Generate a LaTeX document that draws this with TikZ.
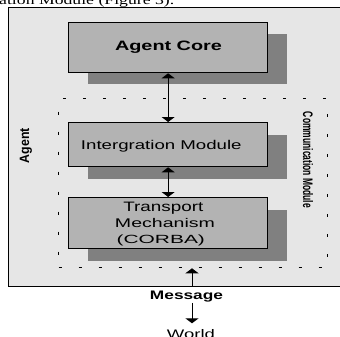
\documentclass[tikz,border=0pt]{standalone}
\usepackage{fontspec}
\setmainfont{Liberation Sans}
\newfontfamily\serifcap{Liberation Serif}
\usetikzlibrary{arrows.meta}
\definecolor{bgray}{RGB}{230,230,230}
\definecolor{boxgray}{RGB}{179,179,179}
\definecolor{shadowgray}{RGB}{128,128,128}
\newcommand{\fitt}[3]{\resizebox{#1pt}{#2pt}{#3}}
\begin{document}
\begin{tikzpicture}[x=1pt,y=-1pt,
  modbox/.style={draw=black, line width=1.3pt, fill=boxgray, minimum width=199pt, inner sep=0pt, anchor=north west},
  shadowbox/.style={fill=shadowgray, draw=none, minimum width=199pt, inner sep=0pt, anchor=north west},
  lbl/.style={inner sep=0pt, anchor=base},
  tip/.tip={Triangle[width=13pt,length=5pt]},
  link/.style={line width=1pt, tip-tip},
  onelink/.style={line width=1pt, -tip}]
\useasboundingbox (0,0) rectangle (340,337);
\clip (0,0) rectangle (340,337);
% caption fragment
\node[inner sep=0pt, anchor=base west] (caption) at (-1,5) {\fitt{175}{9}{\serifcap ation Module (Figure 3).}};
% outer agent box
\node[draw=black, line width=1.3pt, fill=bgray, inner sep=0pt, anchor=north west,
      minimum width=345pt, minimum height=278.5pt] (agentbox) at (8,7) {};
% shadows
\node[shadowbox, minimum height=50pt] (coreshadow) at (88,34) {};
\node[shadowbox, minimum height=44pt] (integshadow) at (88,134.5) {};
\node[shadowbox, minimum height=51pt] (transshadow) at (88,209.5) {};
% communication module (dotted)
\node[draw=black, line width=1.3pt, dash pattern=on 3pt off 17pt, inner sep=0pt, anchor=north west,
      minimum width=269pt, minimum height=169pt] (commbox) at (58,98) {};
% module boxes
\node[modbox, minimum height=50pt] (core) at (68,22) {};
\node[modbox, minimum height=44pt] (integ) at (68,122) {};
\node[modbox, minimum height=51pt] (trans) at (68,197) {};
% labels
\node[lbl] (corelbl) at (168.5,51) {\fitt{107}{9.5}{\bfseries Agent Core}};
\node[lbl] (integlbl) at (161.3,149) {\fitt{160.7}{9.2}{Intergration Module}};
\node[lbl] (translbl1) at (163.3,211.7) {\fitt{80}{9.4}{Transport}};
\node[lbl] (translbl2) at (165,227.3) {\fitt{100}{9.1}{Mechanism}};
\node[lbl] (translbl3) at (160.8,243.3) {\fitt{88.3}{8.6}{(CORBA)}};
\node[lbl, rotate=90] (agentlbl) at (29,145.5) {\fitt{35}{9.3}{\bfseries Agent}};
\node[lbl, rotate=-90] (commlbl) at (303,160) {\fitt{96}{10}{\bfseries Communication Module}};
\node[lbl] (msg) at (186.5,299) {\fitt{73}{8.5}{\bfseries Message}};
\node[lbl] (world) at (191,338.5) {\fitt{48}{9}{World}};
% connectors
\coordinate (ax) at (192,0);
\draw[link] (core.south) -- (integ.north);
\draw[link] (integ.south) -- (trans.north);
\draw[onelink] (agentbox.south -| ax) -- (commbox.south -| ax);
\draw[onelink, shorten >=6pt] ([yshift=-1pt]msg.south -| ax) -- (world.north -| ax);
\end{tikzpicture}
\end{document}
